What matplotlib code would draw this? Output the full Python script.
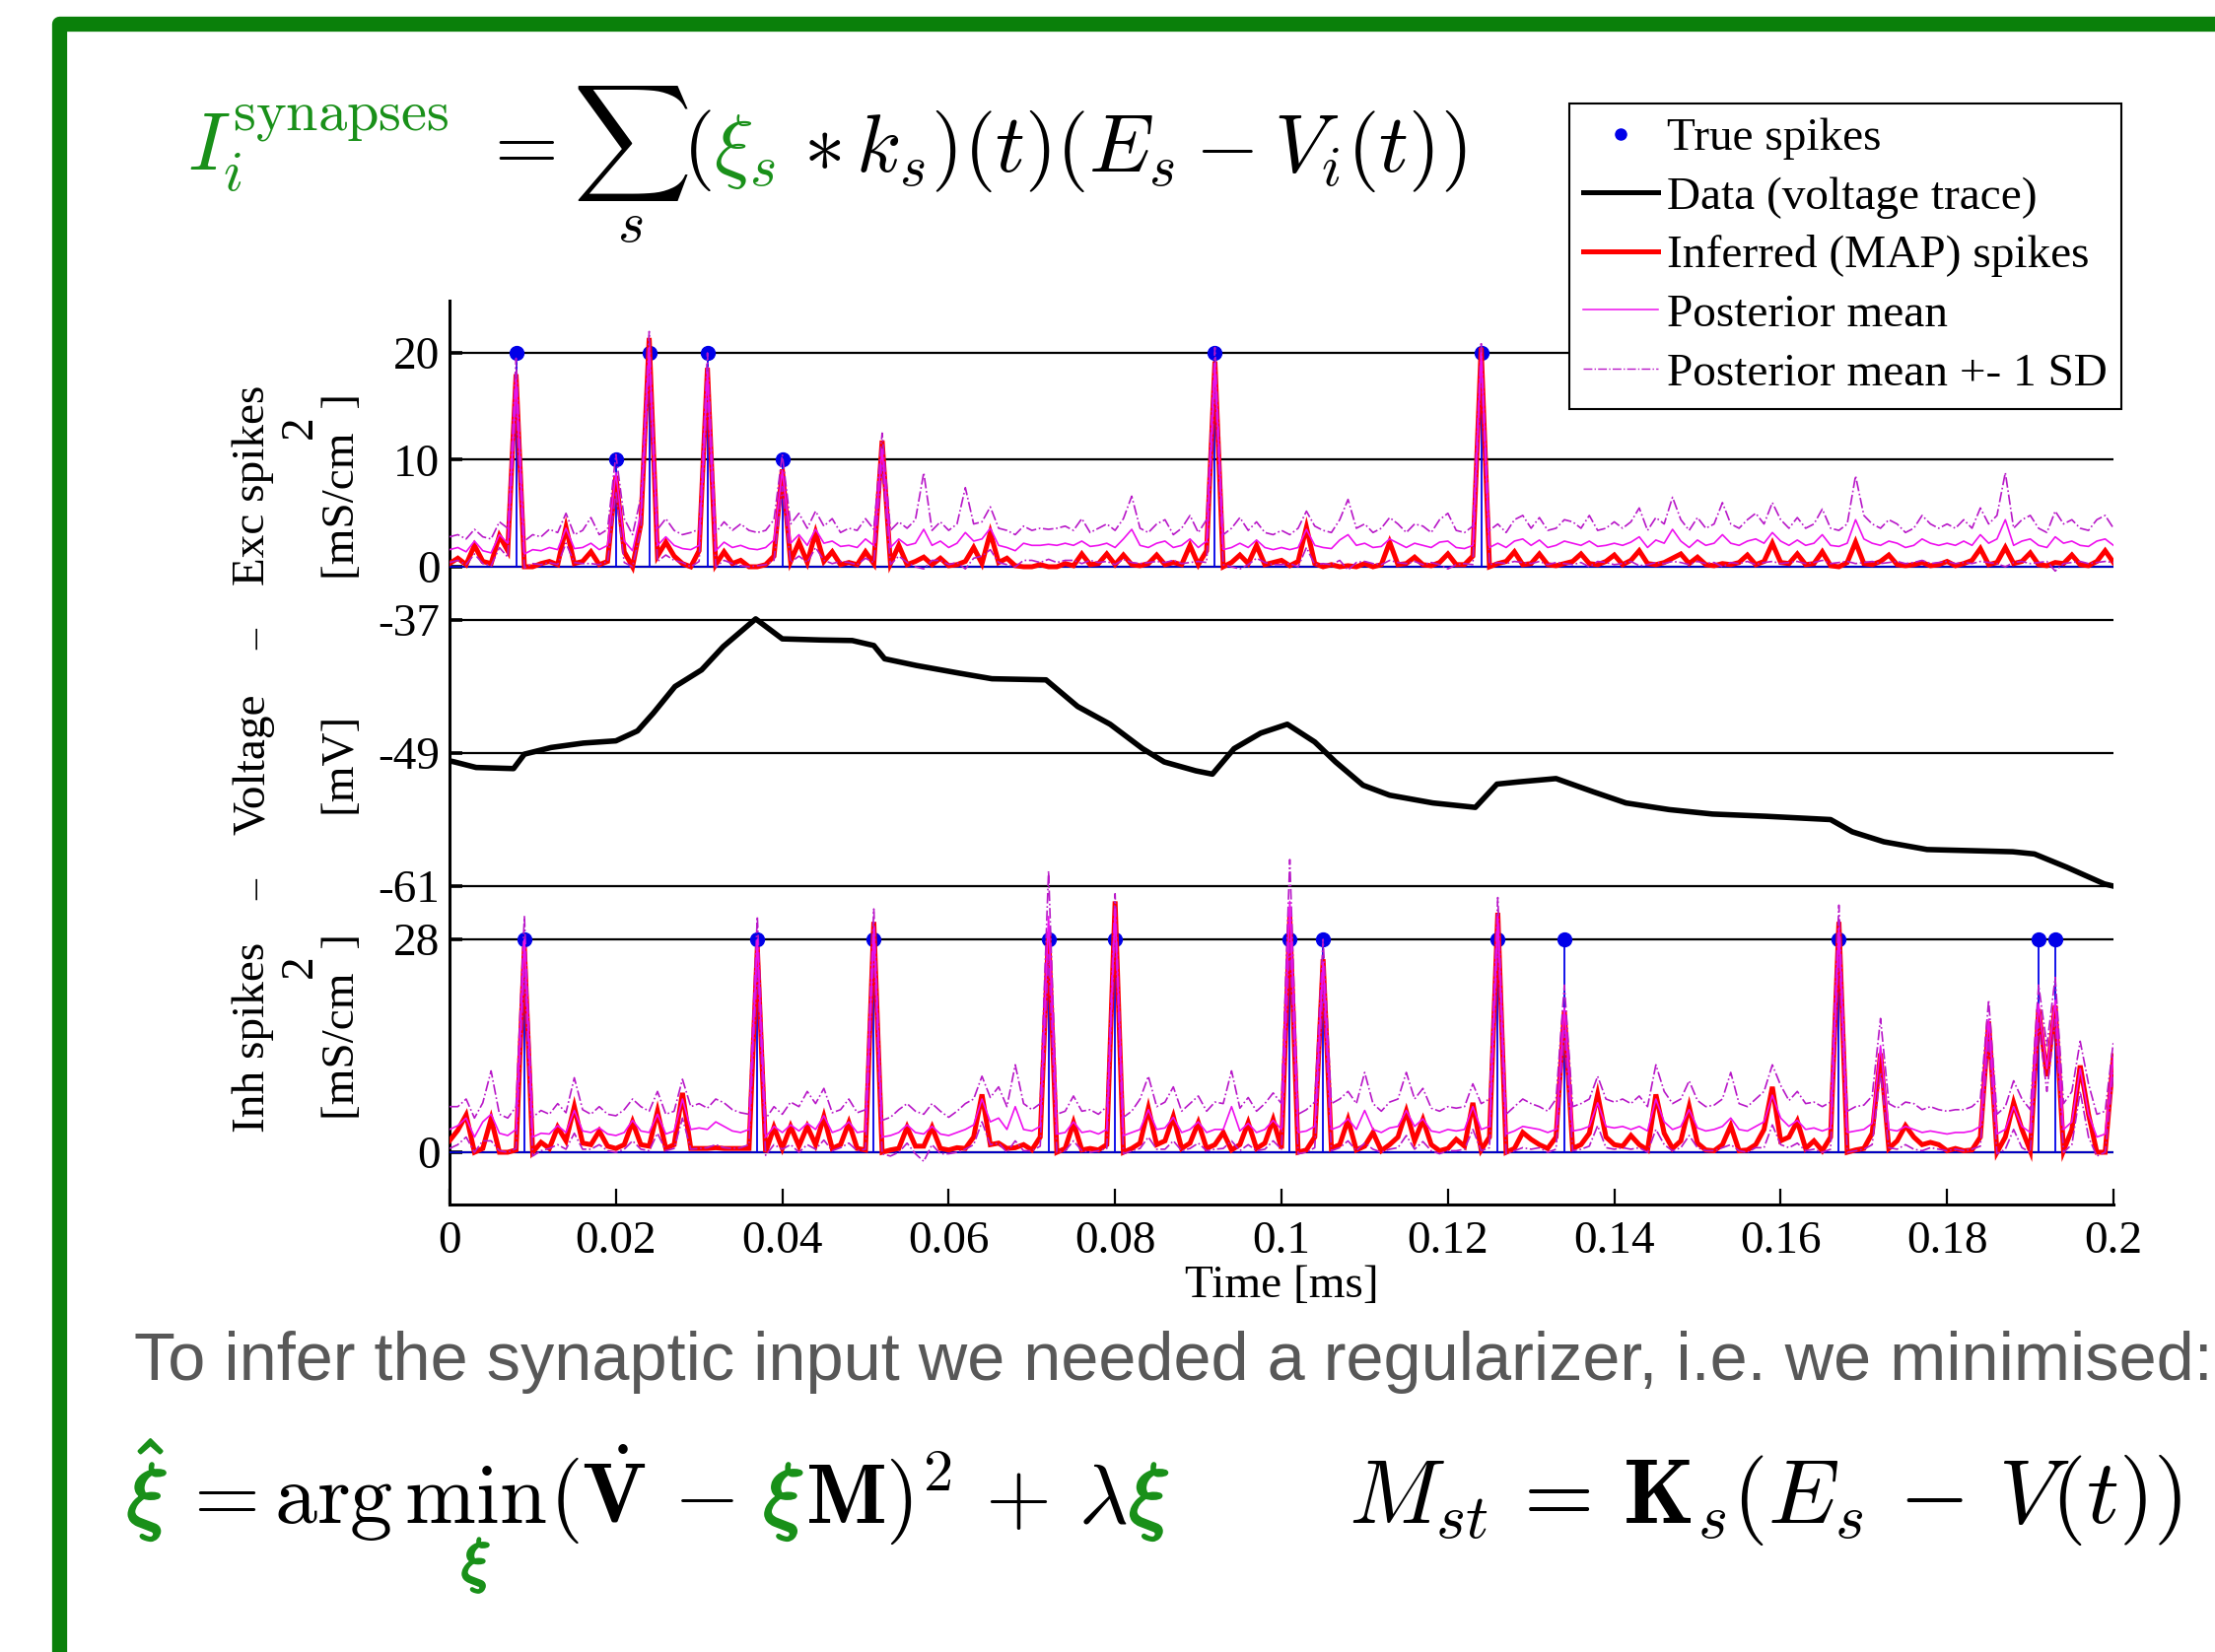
import matplotlib
matplotlib.use("Agg")
import matplotlib.pyplot as plt
import matplotlib.patches as mpatches
import matplotlib.patheffects as pe
from matplotlib.lines import Line2D
import numpy as np

plt.rcParams['font.family'] = ['Liberation Serif', 'DejaVu Serif']
plt.rcParams['mathtext.fontset'] = 'cm'
plt.rcParams['axes.unicode_minus'] = False

# ---------------- data ----------------
x_ticks = [0, 0.02, 0.04, 0.06, 0.08, 0.1, 0.12, 0.14, 0.16, 0.18, 0.2]
x_tick_labels = ['0', '0.02', '0.04', '0.06', '0.08', '0.1', '0.12', '0.14', '0.16', '0.18', '0.2']
exc_ticks = [0, 10, 20]
volt_ticks = [-61, -49, -37]
inh_ticks = [0, 28]

exc_true_t = [0.008, 0.020, 0.024, 0.031, 0.040, 0.092, 0.124]
exc_true_v = [20, 10, 20, 20, 10, 20, 20]
inh_true_t = [0.009, 0.037, 0.051, 0.072, 0.080, 0.101, 0.105, 0.126, 0.134, 0.167, 0.191, 0.193]
inh_true_v = [28, 28, 28, 28, 28, 28, 28, 28, 28, 28, 28, 28]

exc_map = [0.3, 0.8, 0.2, 2.0, 0.5, 0.3, 2.9, 1.5, 18.0, 0.0,
           0.0, 0.3, 0.5, 0.2, 3.7, 0.3, 0.5, 1.4, 0.2, 0.5,
           8.5, 1.4, 0.0, 4.0, 21.4, 1.0, 2.3, 1.0, 0.3, 0.0,
           1.5, 18.6, 0.2, 1.4, 0.3, 0.6, 0.0, 0.0, 0.2, 1.0,
           9.1, 0.5, 2.3, 0.4, 3.2, 0.5, 1.4, 0.2, 0.4, 0.2,
           1.4, 0.3, 11.8, 0.3, 2.0, 0.2, 0.5, 0.9, 0.2, 0.8,
           0.1, 0.2, 0.5, 1.8, 0.3, 3.2, 0.4, 0.8, 0.1, 0.0,
           0.0, 0.2, 0.0, 0.0, 0.3, 0.1, 1.2, 0.2, 0.3, 1.2,
           0.2, 1.1, 0.2, 0.1, 0.3, 1.1, 0.2, 0.4, 0.2, 2.0,
           0.2, 1.5, 19.2, 0.0, 0.4, 1.1, 0.3, 2.0, 0.2, 0.4,
           0.6, 0.1, 0.5, 3.7, 0.3, 0.0, 0.2, 0.0, 0.1, 0.0,
           0.3, 0.0, 0.2, 2.3, 0.2, 0.3, 0.9, 0.2, 0.1, 0.4,
           1.2, 0.2, 0.2, 1.0, 20.5, 0.0, 0.3, 0.5, 1.4, 0.2,
           0.3, 1.2, 0.2, 0.1, 0.3, 0.5, 1.2, 0.3, 0.2, 0.5,
           1.1, 0.2, 0.6, 1.5, 0.3, 0.2, 0.4, 0.8, 1.2, 0.3,
           0.9, 0.2, 0.1, 0.3, 0.2, 0.4, 1.1, 0.2, 0.5, 2.2,
           0.4, 0.3, 1.2, 0.2, 0.3, 1.4, 0.1, 0.0, 0.4, 2.3,
           0.3, 0.2, 0.5, 1.1, 0.2, 0.1, 0.2, 0.4, 0.1, 0.2,
           0.5, 0.1, 0.3, 0.6, 1.7, 0.2, 0.4, 1.8, 0.3, 0.5,
           1.3, 0.2, 0.1, 0.4, 0.3, 1.1, 0.2, 0.1, 0.5, 1.5,
           0.4]
exc_mean = [1.6, 1.8, 1.4, 2.4, 1.5, 1.3, 3.0, 2.2, 17.5, 1.2,
            1.6, 1.5, 1.8, 1.6, 3.6, 1.7, 1.8, 2.2, 1.6, 2.0,
            8.8, 2.4, 1.5, 5.0, 20.5, 2.0, 2.8, 2.0, 1.7, 1.6,
            2.0, 18.2, 1.5, 2.3, 1.8, 2.0, 1.7, 1.6, 1.8, 2.5,
            9.0, 2.2, 3.0, 2.0, 3.5, 2.2, 2.4, 1.9, 2.0, 1.8,
            2.6, 2.0, 11.0, 1.8, 2.6, 2.0, 2.2, 3.5, 2.0, 2.4,
            1.8, 2.2, 3.2, 2.4, 2.6, 3.6, 2.0, 1.8, 1.5, 2.2,
            2.0, 2.0, 2.1, 2.0, 2.2, 2.0, 2.4, 1.9, 2.0, 2.2,
            1.8, 2.6, 3.5, 2.0, 1.8, 2.2, 2.4, 1.8, 2.0, 2.6,
            1.8, 2.4, 19.0, 1.6, 1.8, 2.2, 1.8, 2.5, 1.8, 1.6,
            1.8, 1.6, 1.8, 3.5, 2.0, 1.8, 1.7, 2.5, 3.0, 2.0,
            2.2, 1.8, 1.9, 2.6, 2.2, 1.8, 2.2, 2.0, 1.8, 2.3,
            2.4, 1.8, 1.7, 2.0, 20.0, 1.8, 2.2, 1.8, 2.4, 2.6,
            2.0, 2.5, 1.8, 2.0, 2.4, 2.2, 2.0, 2.4, 1.9, 2.0,
            2.2, 2.0, 2.3, 2.8, 1.8, 2.5, 2.2, 3.5, 2.4, 1.8,
            2.5, 2.0, 2.2, 3.0, 2.2, 2.0, 2.4, 2.6, 2.2, 3.2,
            2.4, 2.0, 2.5, 2.0, 2.2, 3.0, 2.0, 1.9, 2.2, 4.4,
            2.6, 2.2, 2.0, 2.4, 2.2, 1.8, 2.0, 2.6, 2.2, 2.0,
            2.2, 2.0, 2.4, 2.0, 3.0, 2.2, 2.6, 4.4, 2.0, 2.4,
            2.6, 2.0, 1.8, 2.8, 2.2, 2.4, 2.0, 1.9, 2.4, 2.6,
            2.0]
exc_upper = [2.8, 3.0, 2.6, 3.5, 2.8, 2.6, 4.2, 3.6, 19.5, 2.4,
             3.0, 2.8, 3.5, 3.2, 5.0, 3.0, 3.4, 4.6, 3.0, 3.5,
             10.5, 4.5, 3.0, 6.5, 22.0, 3.5, 4.5, 3.4, 3.0, 3.2,
             3.5, 20.0, 3.2, 4.2, 3.4, 4.0, 3.4, 3.2, 3.4, 4.4,
             10.5, 4.0, 5.0, 3.6, 5.2, 3.8, 4.5, 3.2, 3.6, 3.4,
             4.5, 3.5, 12.5, 3.4, 4.2, 3.6, 4.4, 8.8, 3.4, 4.2,
             3.4, 4.0, 7.4, 4.0, 4.2, 5.6, 3.6, 3.4, 3.0, 3.8,
             3.4, 3.6, 3.5, 3.6, 3.8, 3.4, 4.5, 3.2, 3.6, 4.0,
             3.4, 4.5, 6.6, 3.6, 3.2, 4.0, 4.4, 3.0, 3.6, 4.8,
             3.2, 4.4, 20.5, 3.0, 3.6, 4.6, 3.4, 4.2, 3.2, 3.0,
             3.4, 3.0, 3.6, 5.2, 3.8, 3.4, 3.2, 4.4, 6.3, 3.6,
             4.0, 3.2, 3.6, 4.6, 4.0, 3.2, 4.0, 3.8, 3.2, 4.4,
             5.0, 3.4, 3.2, 3.8, 21.0, 3.4, 4.0, 3.2, 4.4, 4.8,
             3.6, 4.6, 3.4, 3.6, 4.4, 4.2, 3.6, 4.8, 3.4, 3.6,
             4.2, 3.6, 4.2, 5.5, 3.4, 4.6, 4.0, 6.5, 4.4, 3.4,
             4.6, 3.6, 4.0, 6.0, 4.0, 3.6, 4.4, 5.0, 4.0, 6.0,
             4.4, 3.6, 4.6, 3.6, 4.0, 5.4, 3.6, 3.4, 4.0, 8.5,
             4.8, 4.0, 3.6, 4.4, 4.0, 3.2, 3.6, 4.8, 4.0, 3.6,
             4.0, 3.6, 4.4, 3.6, 5.5, 4.0, 4.8, 8.8, 3.6, 4.4,
             4.8, 3.6, 3.2, 5.2, 4.0, 4.4, 3.6, 3.4, 4.4, 4.8,
             3.6]
exc_lower = [0.4, 0.6, 0.2, 1.2, 0.3, 0.1, 1.8, 0.9, 15.5, -0.1,
             0.3, 0.2, 0.4, 0.2, 2.2, 0.4, 0.3, 0.3, 0.2, 0.5,
             7.0, 0.4, 0.0, 3.5, 19.0, 0.5, 1.1, 0.6, 0.4, 0.0,
             0.5, 16.5, 0.0, 0.6, 0.3, 0.1, 0.0, 0.1, 0.2, 0.6,
             7.5, 0.4, 1.0, 0.4, 1.8, 0.6, 0.3, 0.5, 0.4, 0.2,
             0.8, 0.4, 9.5, 0.2, 1.0, 0.4, 0.0, -0.2, 0.6, 0.6,
             0.2, 0.4, -0.2, 0.8, 1.0, 1.6, 0.4, 0.2, 0.0, 0.6,
             0.6, 0.4, 0.7, 0.4, 0.6, 0.6, 0.3, 0.6, 0.4, 0.5,
             0.2, 0.7, 0.4, 0.3, 0.4, 0.5, 0.4, 0.6, 0.3, 0.4,
             0.5, 0.4, 17.5, 0.2, 0.0, -0.2, 0.2, 0.8, 0.4, 0.2,
             0.2, 0.3, 0.0, 1.8, 0.2, 0.3, 0.2, 0.6, -0.3, 0.4,
             0.5, 0.3, 0.2, 0.6, 0.4, 0.3, 0.5, 0.2, 0.4, 0.2,
             -0.2, 0.2, 0.3, 0.2, 19.0, 0.2, 0.4, 0.3, 0.5, 0.4,
             0.3, 0.5, 0.2, 0.4, 0.3, 0.2, 0.4, 0.0, 0.5, 0.4,
             0.2, 0.3, 0.5, 0.1, 0.2, 0.4, 0.3, 0.5, 0.4, 0.2,
             0.5, 0.3, 0.4, 0.0, 0.4, 0.3, 0.5, 0.2, 0.4, 0.5,
             0.3, 0.4, 0.5, 0.3, 0.4, 0.6, 0.3, 0.4, 0.5, 0.3,
             0.4, 0.5, 0.3, 0.4, 0.5, 0.3, 0.4, 0.6, 0.3, 0.4,
             0.5, 0.3, 0.4, 0.3, 0.5, 0.4, 0.3, 0.0, 0.4, 0.5,
             0.3, 0.4, 0.5, -0.4, 0.3, 0.4, 0.5, 0.3, 0.4, 0.5,
             0.4]

inh_map = [1.5, 2.9, 4.9, 0.0, 0.5, 4.4, 0.0, 0.0, 0.3, 27.0,
           0.0, 1.3, 0.5, 3.3, 1.5, 6.0, 1.2, 1.0, 2.8, 0.8,
           0.5, 1.0, 4.0, 1.0, 0.8, 5.4, 0.5, 1.0, 7.8, 0.5,
           0.5, 0.5, 0.6, 0.5, 0.5, 0.5, 0.5, 27.0, 0.0, 3.3,
           0.5, 3.4, 0.8, 3.4, 1.0, 4.7, 0.5, 1.0, 3.9, 0.5,
           0.3, 30.3, 0.0, 0.3, 0.5, 3.3, 0.8, 0.8, 3.3, 0.5,
           0.3, 0.6, 0.5, 2.0, 7.6, 1.0, 1.2, 0.5, 0.6, 1.0,
           0.3, 2.0, 29.0, 0.0, 0.5, 3.9, 0.3, 0.5, 0.3, 1.0,
           33.0, 0.0, 0.5, 1.2, 5.8, 1.0, 1.5, 4.7, 0.5, 1.2,
           3.9, 0.5, 1.0, 2.6, 0.3, 1.0, 3.9, 0.5, 1.2, 4.3,
           0.5, 31.0, 0.0, 0.3, 2.0, 25.4, 0.5, 1.0, 4.3, 0.3,
           0.8, 2.6, 0.2, 1.0, 2.0, 5.4, 1.5, 4.3, 1.0, 0.2,
           0.5, 1.7, 0.8, 6.5, 0.3, 2.0, 31.5, 0.0, 0.5, 2.6,
           1.7, 1.0, 0.5, 2.0, 18.6, 0.5, 1.0, 2.5, 7.6, 2.0,
           1.0, 0.8, 2.2, 1.0, 0.3, 7.6, 2.5, 0.5, 1.5, 6.0,
           1.2, 0.3, 0.2, 1.0, 3.5, 0.2, 0.3, 1.0, 3.0, 8.6,
           1.5, 2.0, 4.1, 0.5, 1.5, 0.2, 2.0, 30.3, 0.0, 0.3,
           0.5, 2.5, 13.0, 0.5, 1.5, 3.5, 2.0, 1.0, 1.3, 1.0,
           0.2, 0.5, 0.2, 0.3, 2.0, 17.2, 0.0, 2.0, 6.5, 3.0,
           0.2, 18.8, 10.0, 19.3, 0.2, 3.0, 11.4, 5.0, 0.0, 0.0,
           12.7]
inh_mean = [3.0, 3.5, 4.5, 2.0, 4.0, 5.0, 2.5, 2.2, 3.0, 28.0,
            2.0, 2.5, 2.4, 3.5, 2.6, 5.5, 2.8, 2.6, 3.2, 2.4,
            2.2, 2.6, 4.2, 2.8, 2.6, 5.0, 2.4, 2.8, 7.0, 3.0,
            3.2, 3.0, 4.0, 3.4, 2.8, 2.6, 3.0, 28.0, 2.0, 3.4,
            2.6, 3.6, 2.8, 3.8, 3.0, 4.8, 2.6, 3.0, 4.0, 2.6,
            2.8, 29.5, 2.0, 2.2, 2.6, 3.6, 2.6, 2.4, 3.4, 2.4,
            2.2, 2.6, 3.0, 3.6, 7.0, 4.0, 4.5, 3.0, 6.0, 3.0,
            2.8, 3.4, 31.0, 2.4, 2.6, 4.0, 2.6, 2.8, 2.4, 3.0,
            32.0, 2.2, 2.6, 3.0, 5.6, 3.0, 3.2, 4.6, 2.6, 3.0,
            4.0, 2.6, 3.0, 3.0, 6.0, 2.8, 3.8, 2.6, 3.0, 4.2,
            3.0, 33.0, 2.6, 2.8, 3.4, 25.0, 3.0, 3.4, 4.4, 3.0,
            5.5, 3.0, 2.6, 3.2, 3.4, 5.5, 3.4, 4.4, 2.8, 2.6,
            3.0, 2.8, 3.0, 6.0, 3.0, 3.4, 31.0, 2.4, 2.8, 3.4,
            3.2, 3.0, 2.6, 3.0, 19.0, 2.8, 3.0, 3.4, 6.5, 3.4,
            3.2, 3.4, 3.0, 3.4, 2.8, 7.0, 4.0, 3.0, 3.4, 5.6,
            3.2, 2.8, 3.0, 3.4, 4.5, 3.0, 2.8, 3.4, 4.0, 7.5,
            4.5, 3.4, 4.2, 3.0, 3.2, 2.8, 3.2, 29.5, 2.6, 2.8,
            3.0, 3.8, 14.0, 3.0, 2.8, 3.4, 3.0, 2.6, 2.8, 2.6,
            2.4, 2.6, 2.6, 2.8, 3.4, 17.5, 2.4, 3.0, 6.0, 3.4,
            2.6, 19.5, 11.0, 20.0, 3.0, 4.0, 11.0, 5.0, 2.0, 2.4,
            12.5]
inh_upper = [6.0, 6.0, 7.0, 4.5, 6.5, 10.7, 5.0, 4.5, 6.0, 31.0,
             4.6, 5.5, 5.0, 6.4, 5.2, 9.8, 5.6, 5.0, 6.0, 5.0,
             4.8, 5.6, 7.0, 6.0, 5.4, 8.0, 5.0, 5.4, 9.6, 6.0,
             6.4, 5.8, 7.0, 6.5, 5.6, 5.2, 5.0, 31.0, 4.4, 6.0,
             5.0, 6.6, 6.0, 8.0, 6.4, 8.4, 5.2, 5.6, 7.0, 5.2,
             5.6, 32.0, 4.2, 4.6, 5.6, 6.4, 5.4, 5.0, 6.4, 5.4,
             4.6, 5.4, 6.4, 7.0, 10.0, 7.2, 8.6, 6.0, 11.5, 6.4,
             5.6, 6.4, 37.0, 5.0, 5.4, 7.4, 5.4, 5.6, 5.0, 6.0,
             34.0, 4.6, 5.4, 7.0, 10.0, 6.0, 6.6, 8.6, 5.4, 6.4,
             7.4, 5.4, 6.6, 6.4, 10.7, 5.8, 7.2, 5.4, 6.4, 7.8,
             6.4, 38.5, 5.0, 5.6, 6.6, 28.0, 6.4, 7.0, 8.0, 6.4,
             10.5, 6.4, 5.4, 6.6, 7.0, 10.5, 7.0, 8.4, 5.8, 5.4,
             6.0, 5.8, 6.0, 9.0, 6.4, 7.0, 33.5, 5.0, 6.0, 7.0,
             6.4, 6.0, 5.4, 7.0, 22.0, 6.0, 6.4, 7.0, 10.0, 7.0,
             6.6, 7.0, 6.4, 7.4, 6.0, 11.5, 8.0, 6.4, 7.0, 9.4,
             6.8, 6.0, 6.2, 7.0, 10.5, 6.4, 6.0, 7.0, 8.0, 11.5,
             8.8, 6.8, 8.0, 6.4, 6.6, 6.0, 6.6, 32.5, 5.4, 6.0,
             6.2, 7.4, 17.6, 6.4, 5.8, 6.6, 6.4, 5.6, 6.0, 5.6,
             5.4, 5.6, 5.6, 6.0, 7.0, 20.0, 5.0, 6.0, 9.4, 7.0,
             5.6, 22.0, 14.0, 23.0, 6.4, 8.0, 14.6, 9.0, 5.0, 5.4,
             14.6]
inh_lower = [0.5, 1.0, 2.0, 0.0, 1.5, 1.5, 0.2, 0.0, 0.5, 24.0,
             -0.5, 0.2, 0.5, 1.0, 0.4, 2.5, 0.4, 0.4, 1.0, 0.2,
             0.0, 0.4, 1.5, 0.4, 0.2, 2.5, 0.2, 0.5, 4.5, 0.4,
             0.5, 0.6, 1.0, 0.6, 0.5, 0.6, 1.0, 24.5, -0.4, 1.0,
             0.4, 1.0, 0.0, 1.0, 0.4, 1.6, 0.2, 0.6, 1.2, 0.2,
             0.4, 27.0, -0.2, -0.5, 0.0, 1.2, -0.2, -1.2, 1.0, -0.2,
             -0.2, 0.0, 0.4, 1.0, 4.0, 1.0, 1.2, 0.0, 1.5, 0.2,
             0.2, 0.8, 26.0, 0.0, 0.2, 1.5, 0.2, 0.0, 0.2, 0.5,
             30.0, -0.2, 0.2, 0.5, 2.0, 0.4, 0.4, 1.5, 0.2, 0.5,
             1.2, 0.2, 0.4, 0.5, 1.5, 0.2, 1.0, 0.2, 0.4, 1.5,
             0.4, 28.0, -0.2, 0.0, 0.6, 22.0, 0.2, 0.6, 1.5, 0.2,
             1.2, 0.4, 0.0, 0.4, 0.6, 2.2, 0.4, 1.4, 0.2, -0.2,
             0.2, 0.2, 0.4, 3.0, 0.2, 0.6, 28.5, -0.2, 0.2, 0.6,
             0.4, 0.6, 0.0, 0.4, 16.0, 0.2, 0.4, 0.8, 3.5, 0.6,
             0.4, 0.6, 0.4, 0.6, 0.0, 3.0, 1.0, 0.2, 0.6, 2.2,
             0.6, 0.2, 0.2, 0.6, 1.0, 0.2, 0.0, 0.6, 0.6, 3.6,
             1.0, 0.6, 1.2, 0.2, 0.4, 0.0, 0.4, 27.0, 0.0, 0.2,
             0.4, 1.0, 10.5, 0.6, 0.4, 1.0, 0.4, 0.2, 0.6, 0.4,
             0.2, 0.4, 0.2, 0.4, 0.8, 15.0, -0.2, 0.4, 3.0, 0.6,
             0.0, 17.0, 8.0, 17.5, 0.0, 1.0, 8.0, 2.0, -0.5, 0.0,
             10.5]

volt_t = [0.0, 0.0006, 0.0032, 0.0077, 0.0090, 0.0122, 0.0161, 0.0200, 0.0226, 0.0245,
          0.0271, 0.0303, 0.0329, 0.0368, 0.0400, 0.0445, 0.0484, 0.0510, 0.0523, 0.0561,
          0.0613, 0.0652, 0.0717, 0.0755, 0.0794, 0.0833, 0.0859, 0.0897, 0.0917, 0.0943,
          0.0975, 0.1007, 0.1040, 0.1065, 0.1098, 0.1130, 0.1182, 0.1233, 0.1259, 0.1285,
          0.1330, 0.1375, 0.1414, 0.1466, 0.1518, 0.1582, 0.1660, 0.1686, 0.1724, 0.1776,
          0.1828, 0.1879, 0.1905, 0.1944, 0.1989, 0.2]
volt_v = [-49.7, -49.8, -50.3, -50.4, -49.1, -48.5, -48.1, -47.9, -47.0, -45.4,
          -43.0, -41.5, -39.4, -36.9, -38.7, -38.8, -38.85, -39.3, -40.5, -41.1,
          -41.8, -42.3, -42.4, -44.8, -46.4, -48.6, -49.8, -50.6, -50.9, -48.6,
          -47.2, -46.4, -48.0, -49.8, -51.9, -52.8, -53.5, -53.9, -51.8, -51.6,
          -51.3, -52.5, -53.5, -54.1, -54.5, -54.7, -55.0, -56.1, -57.0, -57.7,
          -57.8, -57.9, -58.1, -59.3, -60.8, -61.0]

legend_labels = ['True spikes', 'Data (voltage trace)', 'Inferred (MAP) spikes',
                 'Posterior mean', 'Posterior mean +- 1 SD']

# ---------------- layout helpers ----------------
W, H = 2247, 1676
fig = plt.figure(figsize=(W / 100, H / 100), dpi=100)
fig.patch.set_facecolor('white')


def fx(px):
    return px / W


def fy(py):
    return 1 - py / H


GREEN_FRAME = '#0a800a'
GREEN = '#199019'
RED = '#ff0000'
MAG = '#ee10ee'
MAG_SD = '#b818c8'
BLUE = '#0000e8'

# green frame (extends beyond right/bottom edges)
frame = mpatches.Rectangle((fx(60), fy(1900)), fx(2500) - fx(60), (1900 - 24) / H,
                           transform=fig.transFigure, fill=False, edgecolor=GREEN_FRAME,
                           linewidth=11, joinstyle='round', zorder=0)
fig.add_artist(frame)

AX_L, AX_R = 456, 2144
TICK_FS = 34

ax_frame = fig.add_axes([fx(AX_L), fy(1222), fx(AX_R) - fx(AX_L), (1222 - 305) / H])
ax_frame.set_xlim(0, 0.2)
ax_frame.set_ylim(0, 1)
ax_frame.set_yticks([])
ax_frame.set_xticks(x_ticks)
ax_frame.set_xticklabels(x_tick_labels)
ax_frame.tick_params(axis='x', direction='in', length=11.5, width=1.6, labelsize=TICK_FS, pad=12)
for s in ['top', 'right']:
    ax_frame.spines[s].set_visible(False)
for s in ['left', 'bottom']:
    ax_frame.spines[s].set_linewidth(2.2)
ax_frame.patch.set_alpha(0)


def panel(val_a, px_a, val_b, px_b, top_px, bot_px):
    k = (px_a - px_b) / (val_b - val_a)
    v_top = val_a + (px_a - top_px) / k
    v_bot = val_a + (px_a - bot_px) / k
    ax = fig.add_axes([fx(AX_L), fy(bot_px), fx(AX_R) - fx(AX_L), (bot_px - top_px) / H])
    ax.set_xlim(0, 0.2)
    ax.set_ylim(v_bot, v_top)
    ax.patch.set_alpha(0)
    for s in ax.spines.values():
        s.set_visible(False)
    ax.set_xticks([])
    ax.tick_params(axis='y', direction='in', length=9, width=2.6, labelsize=TICK_FS, pad=7)
    return ax


ax_exc = panel(0, 575, 20, 358, 305, 600)
ax_v = panel(-61, 899, -37, 629, 610, 905)
ax_inh = panel(0, 1169, 28, 953, 860, 1222)

for ax, ticks in [(ax_exc, exc_ticks), (ax_v, volt_ticks), (ax_inh, inh_ticks)]:
    ax.set_yticks(ticks)
    ax.set_yticklabels([str(v) for v in ticks])
    for v in ticks:
        ax.axhline(v, color='black', lw=1.6, zorder=1)

t = np.linspace(0, 0.2, len(exc_map))

for ax, tt, tv, mp, mn, up, lo in [
        (ax_exc, exc_true_t, exc_true_v, exc_map, exc_mean, exc_upper, exc_lower),
        (ax_inh, inh_true_t, inh_true_v, inh_map, inh_mean, inh_upper, inh_lower)]:
    ax.plot([0, 0.2], [0, 0], color=BLUE, lw=1.2, zorder=2)
    ax.vlines(tt, 0, tv, color=BLUE, lw=1.3, zorder=2)
    ax.plot(tt, tv, 'o', color=BLUE, ms=10, zorder=2.5)
    ax.plot(t, mp, color=RED, lw=3.6, zorder=3, solid_joinstyle='miter')
    ax.plot(t, up, color=MAG_SD, lw=1.2, ls='-.', zorder=4)
    ax.plot(t, lo, color=MAG_SD, lw=1.2, ls='-.', zorder=4)
    ax.plot(t, mn, color=MAG, lw=1.2, zorder=4)

ax_v.plot(volt_t, volt_v, color='black', lw=4.0, zorder=3)

# legend
handles = [Line2D([], [], marker='o', color=BLUE, ls='none', ms=8),
           Line2D([], [], color='black', lw=3.6),
           Line2D([], [], color=RED, lw=3.6),
           Line2D([], [], color=MAG, lw=1.1),
           Line2D([], [], color=MAG_SD, lw=1.0, ls='-.')]
leg = fig.legend(handles, legend_labels, loc='upper left',
                 bbox_to_anchor=(fx(1592), fy(105)), borderaxespad=0,
                 fontsize=34, frameon=True, fancybox=False, framealpha=1,
                 edgecolor='black', borderpad=0.3, labelspacing=0.35,
                 handlelength=1.6, handletextpad=0.2)
leg.get_frame().set_linewidth(1.5)

# axis labels
fig.text(fx(1300), fy(1305), 'Time [ms]', fontsize=TICK_FS, ha='center', va='center')
for y, s in [(492, 'Exc spikes'), (775, 'Voltage'), (1052, 'Inh spikes')]:
    fig.text(fx(257), fy(y), s, fontsize=TICK_FS, rotation=90, ha='center', va='center')
for y in [649, 903]:
    fig.text(fx(261), fy(y), '\u2013', fontsize=30, rotation=90, ha='center', va='center')
for y, s in [(494, '2  \n[mS/cm  ]'), (1041, '2  \n[mS/cm  ]')]:
    fig.text(fx(327), fy(y), s, fontsize=TICK_FS, rotation=90, ha='center', va='center',
             multialignment='right', linespacing=0.95)
fig.text(fx(344), fy(774), '[mV]', fontsize=TICK_FS, rotation=90, ha='center', va='center')

# caption
fig.text(fx(136), fy(1400), 'To infer the synaptic input we needed a regularizer, i.e. we minimised:',
         fontsize=49.3, family=['Liberation Sans', 'DejaVu Sans'], color='#585858',
         ha='left', va='baseline')

# ---------------- formulas (coloured pieces) ----------------
renderer = fig.canvas.get_renderer()
bold = [pe.withStroke(linewidth=2.2, foreground=GREEN)]


def row(x_px, base_px, pieces, size):
    x = x_px
    out = []
    for s, color, effects, gap in pieces:
        x += gap
        tx = fig.text(fx(x), fy(base_px), s, fontsize=size, color=color, ha='left',
                      va='baseline', math_fontfamily='cm')
        if effects:
            tx.set_path_effects(effects)
        bb = tx.get_window_extent(renderer)
        out.append(bb)
        x = bb.x1 + 2
    return out


FS_TOP = 60
row(190, 174, [(r'$I_i^{\mathrm{synapses}}$', GREEN, None, 0),
               (r'$=\sum_s($', 'black', None, 30),
               (r'$\xi_s$', GREEN, None, 0),
               (r'$\ast\,k_s)(t)(E_s-V_i(t))$', 'black', None, 26)], FS_TOP)

FS_BOT = 62
BASE_BOT = 1545
bbs = row(129, BASE_BOT, [(r'$\hat{\xi}$', GREEN, bold, 0),
                          (r'$=\arg\min$', 'black', None, 10)], FS_BOT)
# subscript xi under "min"
tmp = fig.text(0, 0, r'$\min$', fontsize=FS_BOT, math_fontfamily='cm')
wmin = tmp.get_window_extent(renderer).width
tmp.remove()
xmin_c = bbs[-1].x1 - wmin / 2
fig.text(fx(xmin_c), fy(BASE_BOT + 58), r'$\xi$', fontsize=FS_BOT * 0.7, color=GREEN,
         ha='center', va='baseline', math_fontfamily='cm', path_effects=bold)
row(bbs[-1].x1 + 2, BASE_BOT, [(r'$(\dot{\mathbf{V}}\,-$', 'black', None, 0),
                                (r'$\xi$', GREEN, bold, 28),
                                (r'$\mathbf{M})^2\,+\,\lambda$', 'black', None, 0),
                                (r'$\xi$', GREEN, bold, 0)], FS_BOT)
row(1368, BASE_BOT, [(r'$M_{st}\,=\,\mathbf{K}_s(E_s\,-\,V(t))$', 'black', None, 0)], 66)

fig.savefig('out.png', dpi=100)
